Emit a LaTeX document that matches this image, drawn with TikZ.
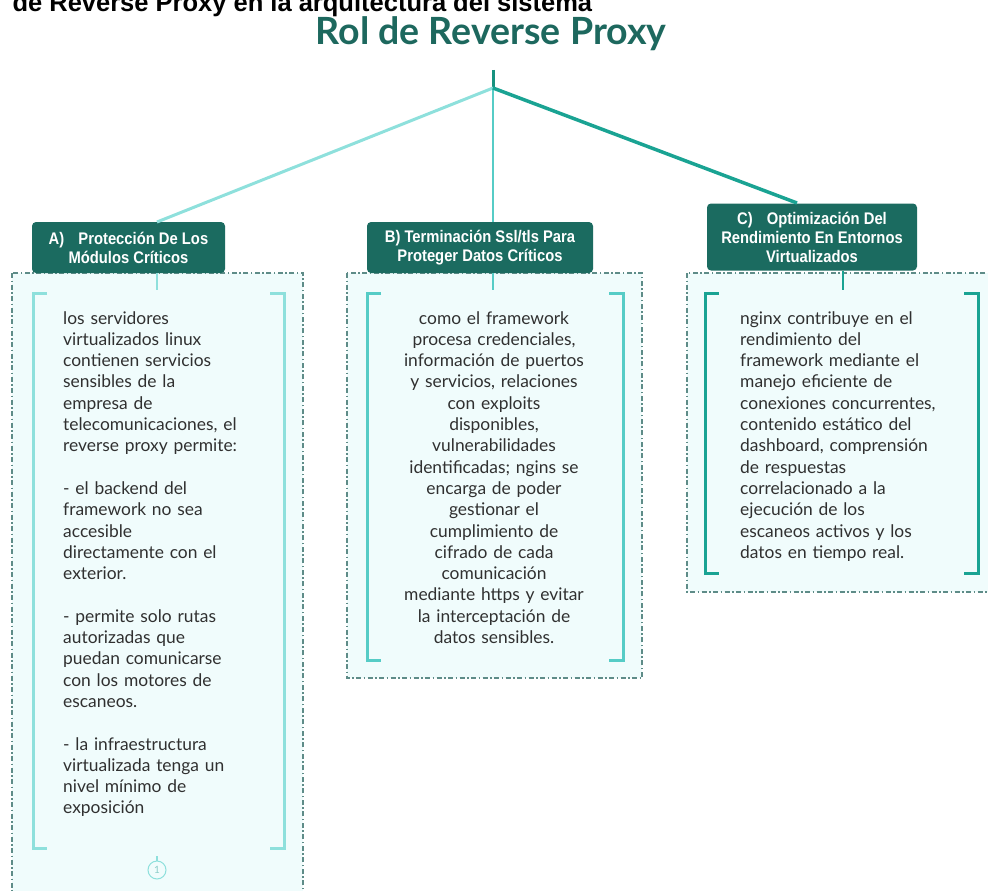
\documentclass[tikz,border=0pt]{standalone}
\usepackage{fontspec}
\setmainfont{Lato}
\newfontfamily\hdrfont[FakeStretch=0.88]{Liberation Sans}
\newfontfamily\capfont{Liberation Sans}
\usepackage{tikz}
\usetikzlibrary{positioning}
\definecolor{hdrteal}{HTML}{1B6B60}
\definecolor{titleteal}{HTML}{1D685E}
\definecolor{stemteal}{HTML}{17927F}
\definecolor{brA}{HTML}{8EE0DC}
\definecolor{brB}{HTML}{56CCC6}
\definecolor{brC}{HTML}{1AA393}
\definecolor{dashteal}{HTML}{5E8C88}
\definecolor{boxfill}{HTML}{F0FCFC}
\definecolor{bodygray}{HTML}{303030}

\begin{document}
\begin{tikzpicture}[x=1pt,y=-1pt,
    hdr/.style={fill=hdrteal, rounded corners=4pt, text=white, align=center,
        font=\hdrfont\bfseries\fontsize{16.8}{19}\selectfont, inner sep=0pt},
    panel/.style={draw=dashteal, fill=boxfill, line width=1.1pt,
        dash pattern=on 5pt off 2.5pt on 1.5pt off 2.5pt},
    body/.style={text=bodygray, font=\fontsize{17.4}{21.3}\selectfont,
        inner sep=0pt, text width=#1},
    branch/.style={line width=#1}]
    \useasboundingbox (0,0) rectangle (988,891);
    \clip (0,0) rectangle (988,891);

    \node[anchor=base west, font=\capfont\bfseries\fontsize{25.5}{28}\selectfont] (cap) at (9,12)
        {de Reverse Proxy en la arquitectura del sistema};
    \node[anchor=base, text=titleteal, font=\bfseries\fontsize{37.5}{40}\selectfont] (title) at (491,45)
        {Rol de Reverse Proxy};

    % panels
    \draw[panel] (12,273) rectangle (303,905);
    \draw[panel] (347,273) rectangle (642,678);
    \draw[panel] (687,273) rectangle (1000,592);

    % brackets
    \foreach \xl/\xr/\yb/\col in {33/284/848/brA, 367/623/660/brB, 705/978/573/brC}{
        \draw[\col, line width=3pt] (\xl+14,293) -- (\xl,293) -- (\xl,\yb) -- (\xl+14,\yb);
        \draw[\col, line width=3pt] (\xr-14,293) -- (\xr,293) -- (\xr,\yb) -- (\xr-14,\yb);
    }

    \node[hdr, minimum width=193pt, minimum height=51pt] (hA) at (128.5,247.5)
        {A)\hspace{10pt} Protección De Los\\Módulos Críticos};
    \node[hdr, minimum width=226pt, minimum height=51pt] (hB) at (480,247.5)
        {B) Terminación Ssl/tls Para\\Proteger Datos Críticos};
    \node[hdr, minimum width=210pt, minimum height=67pt] (hC) at (812,237)
        {C)\hspace{10pt} Optimización Del\\Rendimiento En Entornos\\Virtualizados};

    \node[body=240pt, anchor=north west, align=left] (tA) at (63,311)
        {los servidores\\ virtualizados linux\\ contienen servicios\\ sensibles de la\\
         empresa de\\ telecomunicaciones, el\\ reverse proxy permite:\\[21.3pt]
         - el backend del\\ framework no sea\\ accesible\\ directamente con el\\ exterior.\\[21.3pt]
         - permite solo rutas\\ autorizadas que\\ puedan comunicarse\\ con los motores de\\ escaneos.\\[21.3pt]
         - la infraestructura\\ virtualizada tenga un\\ nivel mínimo de\\ exposición};
    \node[body=260pt, anchor=north, align=center] (tB) at (494,311)
        {como el framework\\ procesa credenciales,\\ información de puertos\\ y servicios, relaciones\\
         con exploits\\ disponibles,\\ vulnerabilidades\\ identificadas; ngins se\\
         encarga de poder\\ gestionar el\\ cumplimiento de\\ cifrado de cada\\ comunicación\\
         mediante https y evitar\\ la interceptación de\\ datos sensibles.};
    \node[body=235pt, anchor=north west, align=left] (tC) at (740,311)
        {nginx contribuye en el\\ rendimiento del\\ framework mediante el\\ manejo eficiente de\\
         conexiones concurrentes,\\ contenido estático del\\ dashboard, comprensión\\
         de respuestas\\ correlacionado a la\\ ejecución de los\\ escaneos activos y los\\
         datos en tiempo real.};

    \node[circle, draw=brA, line width=1pt, minimum size=18pt, inner sep=0pt,
        text=brA!80!gray, font=\fontsize{10}{10}\selectfont] (nA) at (157,870) {1};
    \draw[brA, line width=1.2pt] (nA.north) -- ++(0,-5);

    % tree
    \coordinate (stem) at (493,70);
    \coordinate (hub) at (493,88);
    \coordinate (jA) at (157,222);
    \coordinate (jB) at (493,222);
    \coordinate (jC) at (797,203);
    \draw[stemteal, branch=3pt] (stem) -- (hub);
    \draw[brA, branch=3pt] (hub) -- (jA);
    \draw[brB, branch=2pt] (hub) -- (jB);
    \draw[brC, branch=3.5pt] (hub) -- (jC);
    \draw[brA, branch=2pt] (hA.south -| jA) -- ++(0,17);
    \draw[brB, branch=2pt] (hB.south -| jB) -- ++(0,17);
    \draw[brC, branch=2pt] (hC.south) ++(31,0) -- ++(0,19);
\end{tikzpicture}
\end{document}
